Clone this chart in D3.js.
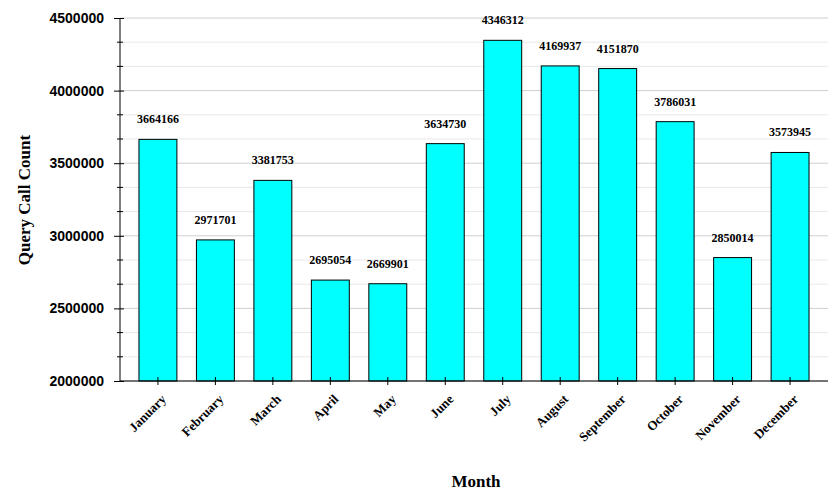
<!DOCTYPE html>
<html><head><meta charset="utf-8">
<script src="https://cdn.jsdelivr.net/npm/d3@7"></script>
<style>body{margin:0;background:#fff}</style></head>
<body><svg id="c" width="838" height="504"></svg>
<script>
const months = ["January","February","March","April","May","June","July","August","September","October","November","December"];
const counts = [3664166,2971701,3381753,2695054,2669901,3634730,4346312,4169937,4151870,3786031,2850014,3573945];
const majorTicks = [2000000,2500000,3000000,3500000,4000000,4500000];

const svg = d3.select("#c");
const L=120,R=828,T=18,B=381;
const x = d3.scaleBand().domain(months).range([L,R]).paddingInner(0.34).paddingOuter(0.33);
const y = d3.scaleLinear().domain([2000000,4500000]).range([B,T]);
const minor = d3.range(2000000,4500001,500000/3).map(v=>Math.round(v)).filter(v=>!majorTicks.includes(v)&&v%500000!==0);

svg.append("g").selectAll("line").data(minor).join("line")
 .attr("x1",L).attr("x2",R).attr("y1",d=>y(d)).attr("y2",d=>y(d)).attr("stroke","#e8e8e8");
svg.append("g").selectAll("line").data(majorTicks).join("line")
 .attr("x1",L).attr("x2",R).attr("y1",d=>y(d)).attr("y2",d=>y(d)).attr("stroke","#cfcfcf");

svg.append("g").selectAll("rect").data(counts).join("rect")
 .attr("x",(d,i)=>x(months[i])).attr("width",x.bandwidth())
 .attr("y",d=>y(d)).attr("height",d=>B-y(d))
 .attr("fill","#00ffff").attr("stroke","#000").attr("stroke-width",1);

svg.append("g").selectAll("text").data(counts).join("text")
 .attr("x",(d,i)=>x(months[i])+x.bandwidth()/2).attr("y",d=>y(d)-16)
 .attr("text-anchor","middle").attr("font-family","Liberation Serif").attr("font-weight","bold").attr("font-size",12)
 .text(d=>d);

// y axis
const ya = svg.append("g").attr("transform",`translate(${L},0)`)
 .call(d3.axisLeft(y).tickValues(majorTicks).tickSize(6).tickPadding(10).tickFormat(d3.format("d")));
ya.select(".domain").attr("d",`M0,${B}V${T}`);
ya.selectAll(".tick line").attr("x2",-6).attr("x1",4);
ya.selectAll("text").attr("font-family","Liberation Sans").attr("font-weight","bold").attr("font-size",14).attr("fill","#000");
svg.append("g").selectAll("line").data(minor).join("line")
 .attr("x1",L-3).attr("x2",L+3).attr("y1",d=>y(d)).attr("y2",d=>y(d)).attr("stroke","#000");

// x axis
const xa = svg.append("g").attr("transform",`translate(0,${B})`)
 .call(d3.axisBottom(x).tickSize(4).tickSizeOuter(0));
xa.select(".domain").attr("d",`M${L},0H${R}`);
xa.selectAll(".tick line").attr("y1",-4).attr("y2",4);
xa.selectAll("text").attr("font-family","Liberation Serif").attr("font-weight","bold").attr("font-size",13).attr("fill","#000")
 .attr("text-anchor","end").attr("dy",0).attr("transform","translate(4,14) rotate(-45)");

svg.append("text").attr("x",476).attr("y",487).attr("text-anchor","middle")
 .attr("font-family","Liberation Serif").attr("font-weight","bold").attr("font-size",17).text("Month");
svg.append("text").attr("transform","translate(30,200) rotate(-90)").attr("text-anchor","middle")
 .attr("font-family","Liberation Serif").attr("font-weight","bold").attr("font-size",17).text("Query Call Count");
</script></body></html>
